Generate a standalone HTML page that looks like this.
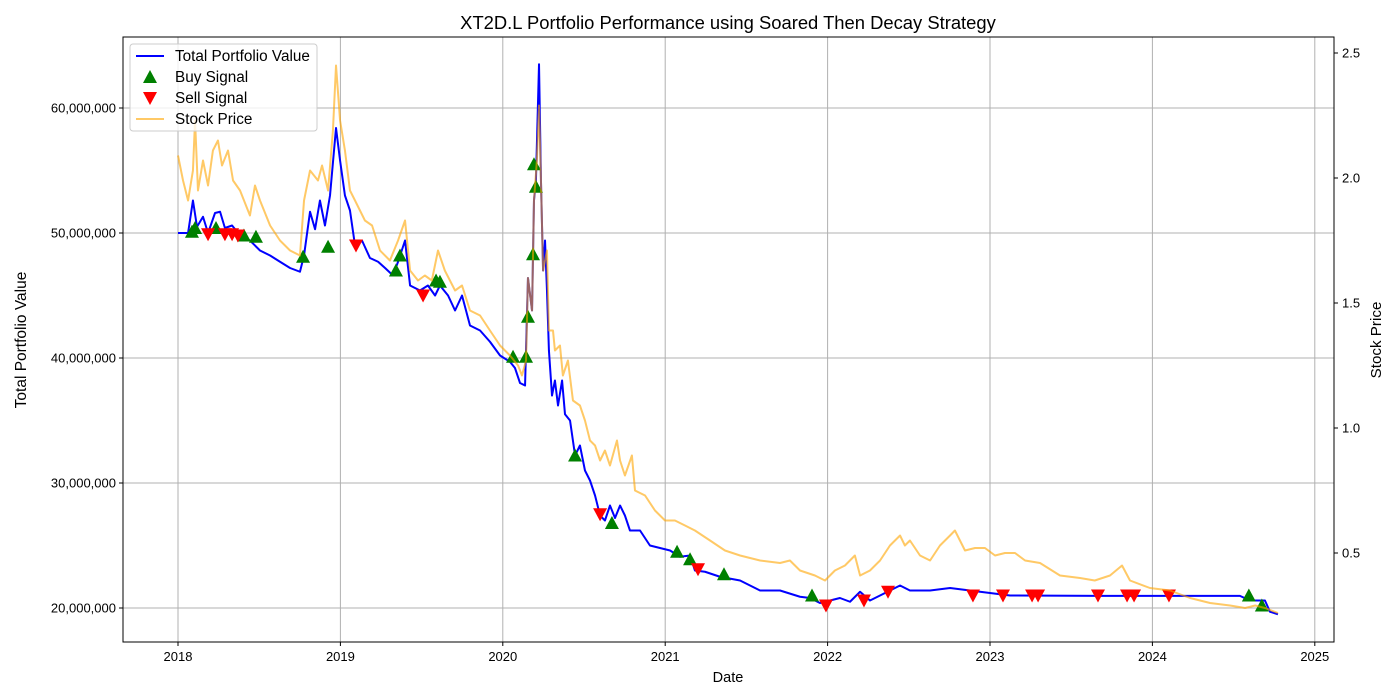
<!DOCTYPE html>
<html><head><meta charset="utf-8"><style>
html,body{margin:0;padding:0;background:#fff;}
svg{display:block;font-family:"Liberation Sans","DejaVu Sans",sans-serif;}
</style></head><body>
<svg id="chart" width="1400" height="700" viewBox="0 0 1400 700" xmlns="http://www.w3.org/2000/svg">
<rect width="1400" height="700" fill="#fff"/>
<text x="728" y="29" font-size="18.4" text-anchor="middle">XT2D.L Portfolio Performance using Soared Then Decay Strategy</text>
<g id="grid"></g>
<g id="series"></g>
<rect x="123" y="37" width="1211" height="605" fill="none" stroke="#000" stroke-width="1"/>
<g id="axes"></g>
<text x="728" y="682" font-size="14.5" text-anchor="middle">Date</text>
<text transform="translate(26,340) rotate(-90)" font-size="15.5" text-anchor="middle">Total Portfolio Value</text>
<text transform="translate(1381,340) rotate(-90)" font-size="15.2" text-anchor="middle">Stock Price</text>
<g>
<rect x="130" y="44" width="187" height="87" rx="3" fill="#fff" fill-opacity="0.8" stroke="#ccc"/>
<line x1="136" y1="56" x2="164" y2="56" stroke="#0000ff" stroke-width="2"/>
<text x="175" y="61" font-size="15.3">Total Portfolio Value</text>
<polygon points="150,70 157,83 143,83" fill="green"/>
<text x="175" y="82" font-size="15.3">Buy Signal</text>
<polygon points="143,92 157,92 150,105" fill="red"/>
<text x="175" y="103" font-size="15.3">Sell Signal</text>
<line x1="136" y1="119" x2="164" y2="119" stroke="orange" stroke-opacity="0.6" stroke-width="2"/>
<text x="175" y="124" font-size="15.3">Stock Price</text>
</g>
</svg>
<script>
const portDates=[2018.000,2018.062,2018.092,2018.117,2018.154,2018.185,2018.228,2018.259,2018.289,2018.333,2018.382,2018.443,2018.505,2018.567,2018.628,2018.690,2018.751,2018.776,2018.813,2018.844,2018.874,2018.905,2018.936,2018.973,2018.998,2019.028,2019.059,2019.090,2019.133,2019.182,2019.232,2019.275,2019.324,2019.355,2019.398,2019.429,2019.490,2019.539,2019.583,2019.613,2019.663,2019.706,2019.749,2019.798,2019.860,2019.921,2019.983,2020.044,2020.075,2020.106,2020.137,2020.155,2020.180,2020.192,2020.204,2020.223,2020.235,2020.248,2020.260,2020.272,2020.284,2020.303,2020.321,2020.340,2020.365,2020.383,2020.414,2020.445,2020.475,2020.506,2020.537,2020.568,2020.599,2020.629,2020.660,2020.691,2020.722,2020.752,2020.783,2020.845,2020.906,2020.968,2021.030,2021.091,2021.153,2021.183,2021.245,2021.337,2021.461,2021.584,2021.707,2021.830,2021.892,2021.953,2022.015,2022.076,2022.138,2022.200,2022.261,2022.323,2022.384,2022.446,2022.507,2022.631,2022.754,2022.877,2023.000,2023.123,2023.677,2024.539,2024.601,2024.693,2024.724,2024.773];
const portValues=[50.0,50.0,52.6,50.5,51.3,50.0,51.6,51.7,50.4,50.6,49.8,49.4,48.6,48.2,47.7,47.2,46.9,48.2,51.7,50.3,52.6,50.6,53.0,58.4,55.8,53.0,51.8,49.0,49.4,48.0,47.7,47.2,46.6,47.7,49.4,45.8,45.4,45.8,45.0,45.8,45.0,43.8,45.0,42.6,42.2,41.3,40.2,39.7,39.2,38.0,37.8,46.4,43.8,52.6,54.2,63.5,54.2,47.0,49.4,45.4,40.6,37.0,38.2,36.2,38.2,35.5,35.0,32.2,33.0,31.0,30.2,29.0,27.4,27.0,28.2,27.2,28.2,27.4,26.2,26.2,25.0,24.8,24.6,24.1,24.2,23.0,22.9,22.5,22.2,21.4,21.4,20.9,20.8,20.4,20.6,20.8,20.5,21.3,20.6,21.0,21.4,21.8,21.4,21.4,21.6,21.4,21.2,21.0,20.97,20.97,20.6,20.6,19.7,19.5];
const priceDates=[2018.000,2018.031,2018.062,2018.092,2018.105,2018.123,2018.154,2018.185,2018.215,2018.246,2018.271,2018.308,2018.339,2018.382,2018.443,2018.474,2018.505,2018.567,2018.628,2018.690,2018.751,2018.776,2018.813,2018.862,2018.887,2018.924,2018.954,2018.973,2018.998,2019.028,2019.059,2019.090,2019.151,2019.195,2019.244,2019.305,2019.355,2019.398,2019.429,2019.478,2019.520,2019.563,2019.601,2019.643,2019.706,2019.749,2019.798,2019.860,2019.921,2019.983,2020.044,2020.094,2020.118,2020.143,2020.155,2020.180,2020.192,2020.210,2020.223,2020.235,2020.248,2020.272,2020.284,2020.309,2020.321,2020.352,2020.370,2020.401,2020.432,2020.475,2020.506,2020.537,2020.568,2020.599,2020.629,2020.660,2020.703,2020.722,2020.752,2020.795,2020.814,2020.876,2020.937,2020.999,2021.060,2021.122,2021.183,2021.276,2021.368,2021.461,2021.584,2021.707,2021.768,2021.830,2021.922,2021.984,2022.045,2022.107,2022.168,2022.200,2022.261,2022.323,2022.384,2022.446,2022.476,2022.507,2022.569,2022.631,2022.692,2022.754,2022.784,2022.846,2022.908,2022.969,2023.031,2023.092,2023.154,2023.216,2023.308,2023.431,2023.554,2023.645,2023.739,2023.813,2023.862,2023.985,2024.108,2024.232,2024.355,2024.478,2024.571,2024.633,2024.693,2024.773];
const priceValues=[2.09,1.99,1.91,2.03,2.23,1.95,2.07,1.97,2.11,2.15,2.05,2.11,1.99,1.95,1.85,1.97,1.91,1.81,1.75,1.71,1.69,1.91,2.03,1.99,2.05,1.95,2.19,2.45,2.23,2.11,1.95,1.91,1.83,1.81,1.71,1.67,1.75,1.83,1.63,1.59,1.61,1.59,1.71,1.63,1.55,1.57,1.47,1.45,1.39,1.33,1.29,1.25,1.21,1.27,1.60,1.47,1.91,2.07,2.29,1.99,1.63,1.71,1.39,1.39,1.31,1.33,1.21,1.27,1.11,1.09,1.03,0.95,0.93,0.87,0.91,0.85,0.95,0.87,0.81,0.89,0.75,0.73,0.67,0.63,0.63,0.61,0.59,0.55,0.51,0.49,0.47,0.46,0.47,0.43,0.41,0.39,0.43,0.45,0.49,0.41,0.43,0.47,0.53,0.57,0.53,0.55,0.49,0.47,0.53,0.57,0.59,0.51,0.52,0.52,0.49,0.50,0.50,0.47,0.46,0.41,0.40,0.39,0.41,0.45,0.39,0.36,0.35,0.32,0.30,0.29,0.28,0.29,0.28,0.26];
const buyDates=[2018.086,2018.105,2018.234,2018.406,2018.480,2018.770,2018.924,2019.342,2019.367,2019.589,2019.613,2020.063,2020.143,2020.155,2020.186,2020.204,2020.192,2020.445,2020.672,2021.073,2021.153,2021.362,2021.904,2024.594,2024.674];
const buyValues=[50.1,50.4,50.4,49.8,49.7,48.1,48.9,47.0,48.2,46.2,46.1,40.1,40.1,43.3,48.3,53.7,55.5,32.2,26.8,24.5,23.9,22.7,21.0,21.0,20.2];
const sellDates=[2018.185,2018.289,2018.333,2018.369,2019.096,2019.509,2020.599,2021.202,2021.990,2022.224,2022.372,2022.895,2023.080,2023.259,2023.296,2023.665,2023.844,2023.887,2024.102];
const sellValues=[49.9,49.9,49.9,49.8,49.0,45.0,27.5,23.1,20.2,20.6,21.3,21.0,21.0,21.0,21.0,21.0,21.0,21.0,21.0];
const xTicks=[2018,2019,2020,2021,2022,2023,2024,2025];
const yTicks=[20,30,40,50,60];
const y2Ticks=[0.5,1.0,1.5,2.0,2.5];

const NS='http://www.w3.org/2000/svg';
const X=t=>178+(t-2018)*162.4;
const Y=v=>608-(v-20)*12.5;
const Y2=p=>553-(p-0.5)*250;
function mk(tag,attrs,parent){const e=document.createElementNS(NS,tag);for(const k in attrs)e.setAttribute(k,attrs[k]);parent.appendChild(e);return e;}
const grid=document.getElementById('grid'),axes=document.getElementById('axes'),series=document.getElementById('series');
xTicks.forEach(t=>{
  const g=mk('line',{x1:X(t),x2:X(t),y1:37,y2:642,stroke:'#b0b0b0','stroke-width':1},grid);
  
  
  mk('line',{x1:X(t),x2:X(t),y1:642,y2:646,stroke:'#000'},axes);
  const tx=mk('text',{x:X(t),y:661,'font-size':13,'text-anchor':'middle'},axes);
  tx.textContent=t;
  
  
});
yTicks.forEach(v=>{
  const g=mk('line',{x1:123,x2:1334,y1:Y(v),y2:Y(v),stroke:'#b0b0b0','stroke-width':1},grid);
  
  
  mk('line',{x1:119,x2:123,y1:Y(v),y2:Y(v),stroke:'#000'},axes);
  const tx=mk('text',{x:116,y:Y(v)+4.5,'font-size':13,'text-anchor':'end'},axes);
  tx.textContent=(v*1000000).toLocaleString('en-US');
  
  
});
y2Ticks.forEach(p=>{
  mk('line',{x1:1334,x2:1338,y1:Y2(p),y2:Y2(p),stroke:'#000'},axes);
  const tx=mk('text',{x:1342,y:Y2(p)+4.5,'font-size':13},axes);
  tx.textContent=p.toFixed(1);
  
  
});
const pl=mk('polyline',{points:portDates.map((t,i)=>X(t)+','+Y(portValues[i])).join(' '),fill:'none',stroke:'#0000ff','stroke-width':2,'stroke-linejoin':'round'},series);


buyDates.forEach((t,i)=>{
  const x=X(t),y=Y(buyValues[i]);
  const m=mk('polygon',{points:`${x},${y-7} ${x+7},${y+6} ${x-7},${y+6}`,fill:'green'},series);
  
  
});
sellDates.forEach((t,i)=>{
  const x=X(t),y=Y(sellValues[i]);
  const m=mk('polygon',{points:`${x-7},${y-6} ${x+7},${y-6} ${x},${y+7}`,fill:'red'},series);
  
  
});
const pr=mk('polyline',{points:priceDates.map((t,i)=>X(t)+','+Y2(priceValues[i])).join(' '),fill:'none',stroke:'orange','stroke-opacity':0.6,'stroke-width':2,'stroke-linejoin':'round'},series);


</script>
</body></html>
